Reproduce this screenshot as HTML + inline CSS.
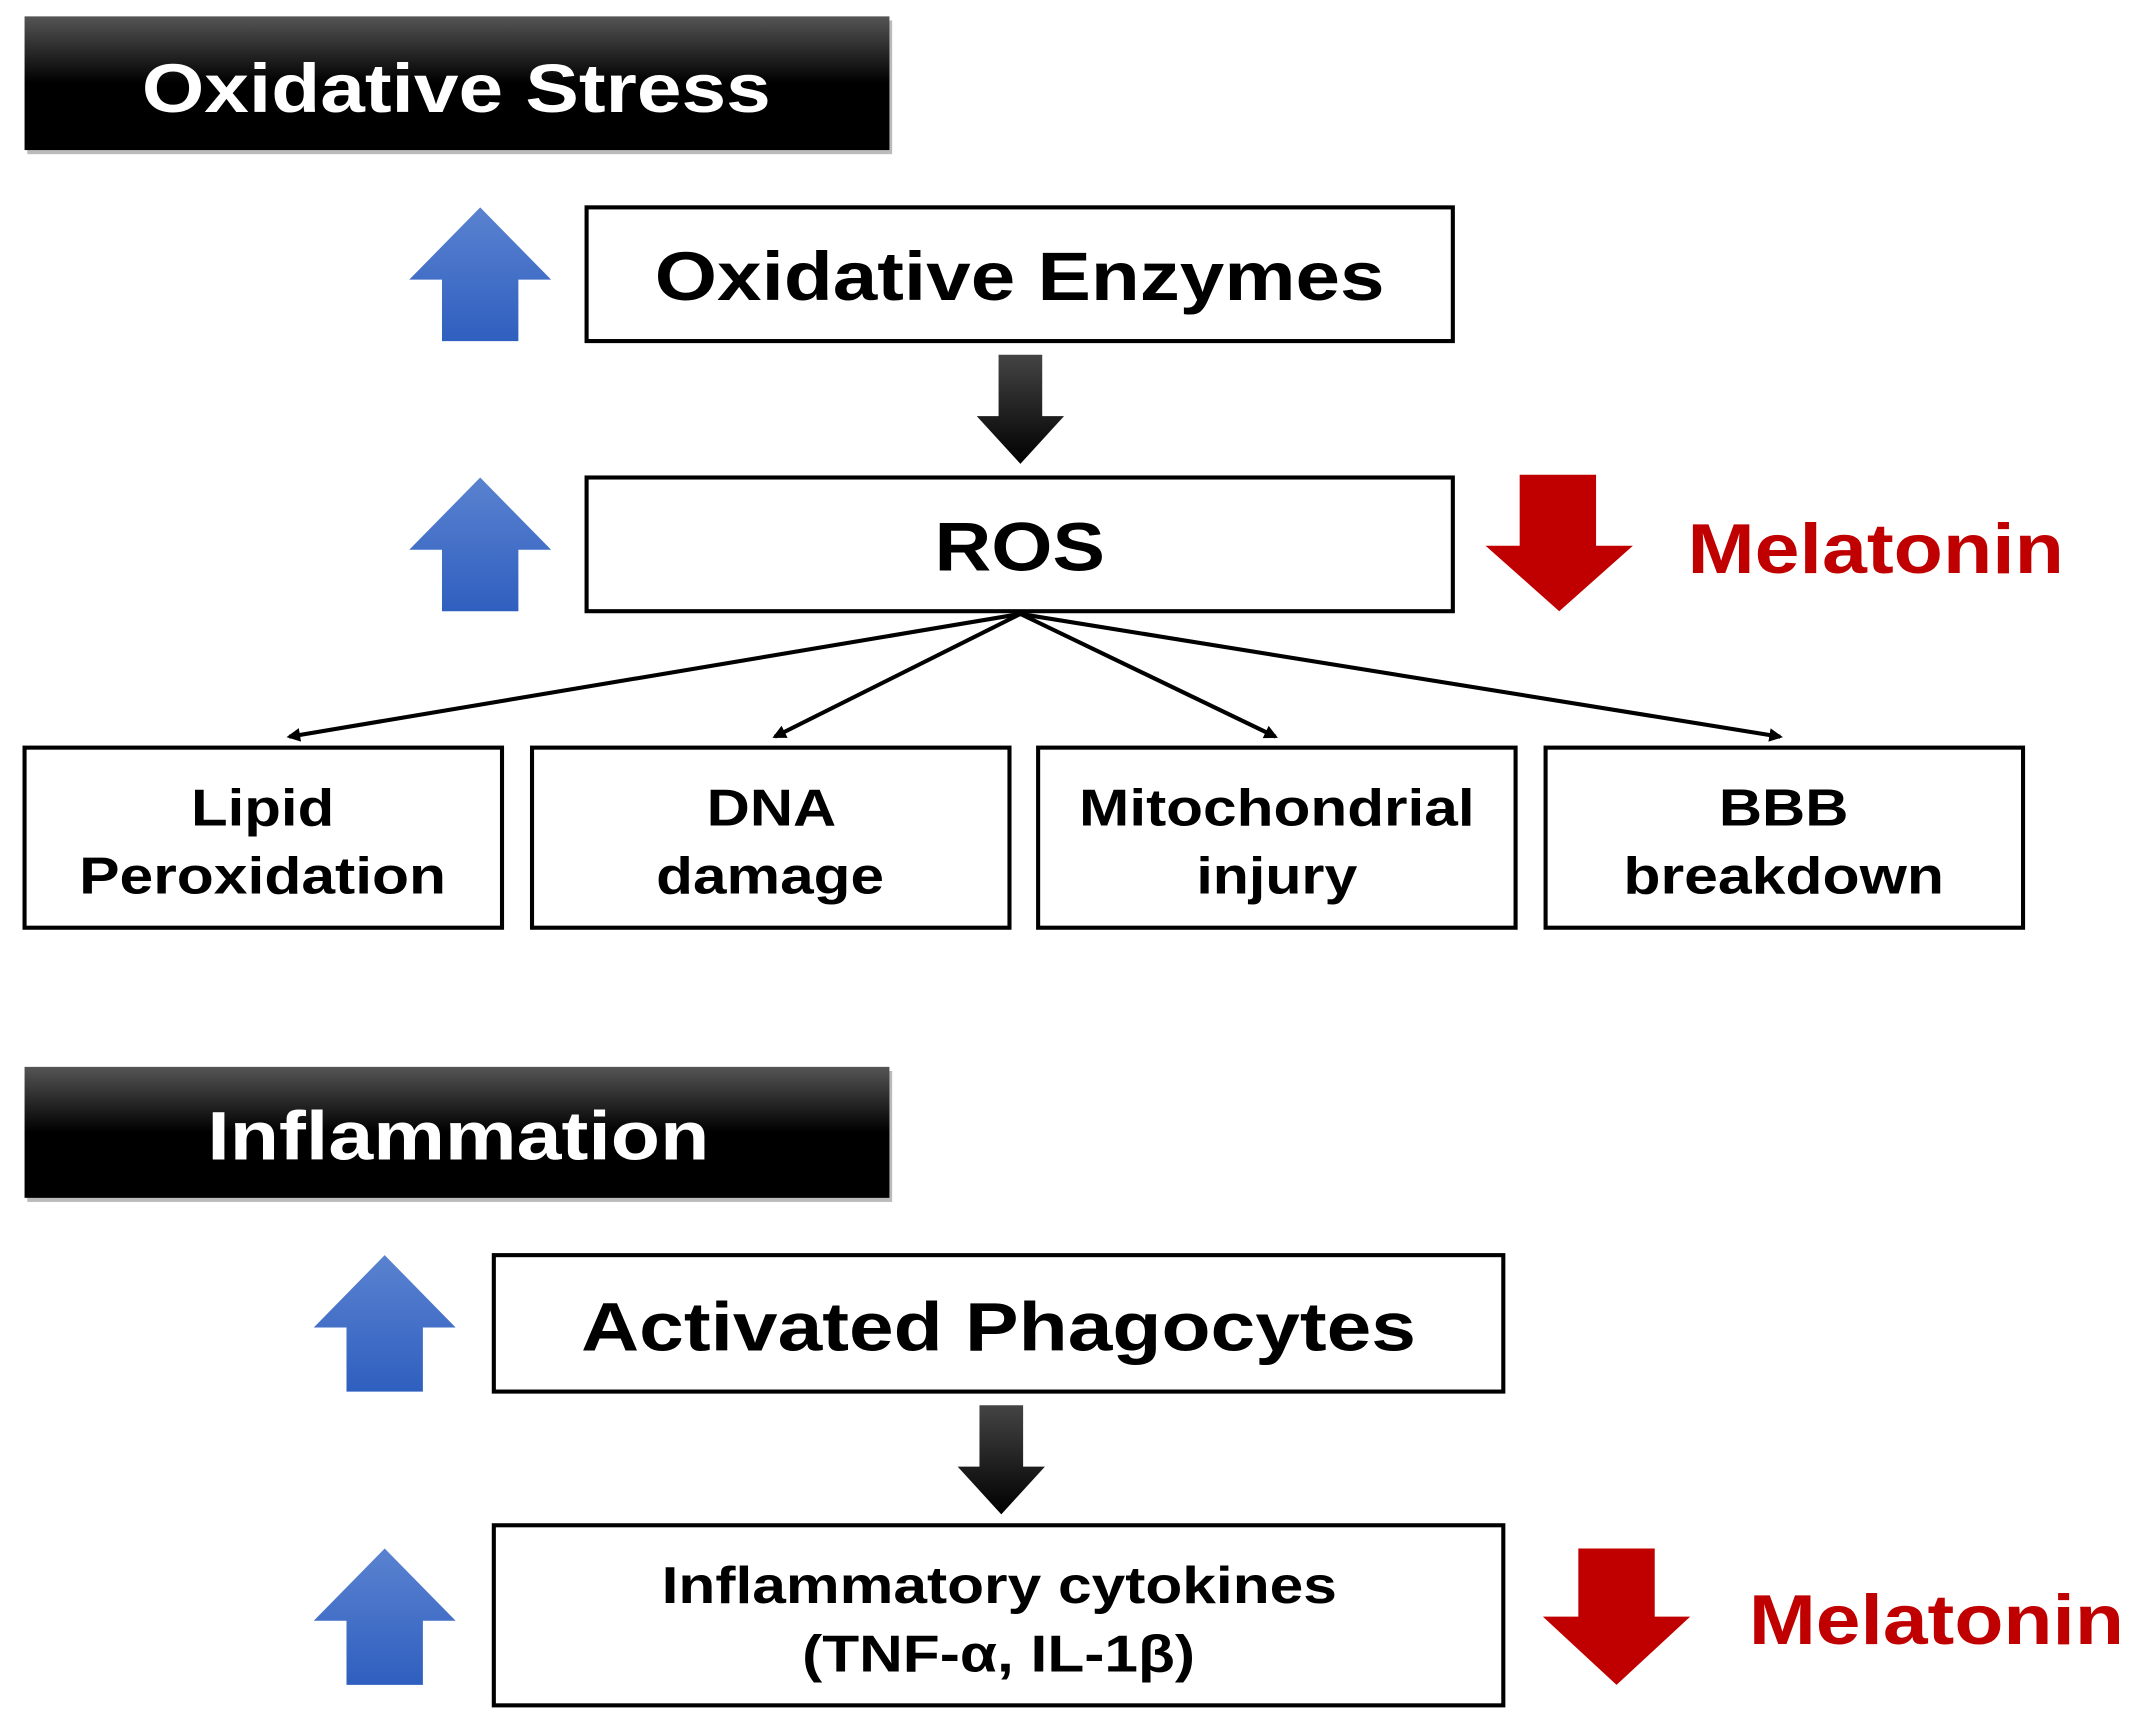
<!DOCTYPE html>
<html><head><meta charset="utf-8"><style>html,body{margin:0;padding:0;background:#fff}svg{display:block}</style></head>
<body>
<svg width="2139" height="1719" viewBox="0 0 1568 1260" preserveAspectRatio="none" xmlns="http://www.w3.org/2000/svg" font-family="Liberation Sans, Arial, sans-serif" font-weight="bold">
<defs>
<linearGradient id="hg" x1="0" y1="0" x2="0" y2="1"><stop offset="0" stop-color="#555"/><stop offset="0.5" stop-color="#000"/><stop offset="1" stop-color="#000"/></linearGradient>
<linearGradient id="bg" x1="0" y1="0" x2="0" y2="1"><stop offset="0" stop-color="#5a82d0"/><stop offset="1" stop-color="#2f5fbf"/></linearGradient>
<linearGradient id="kg" x1="0" y1="0" x2="0" y2="1"><stop offset="0" stop-color="#444"/><stop offset="1" stop-color="#000"/></linearGradient>
<marker id="ah" markerWidth="10" markerHeight="10" refX="8" refY="5" orient="auto" markerUnits="userSpaceOnUse"><path d="M0,0 L10,5 L0,10 Z" fill="#000"/></marker>
</defs>
<rect x="0" y="0" width="1568" height="1260" fill="#fff"/>
<!-- headers -->
<rect x="20" y="15" width="634" height="98" fill="#bbb"/>
<rect x="18" y="12" width="634" height="98" fill="url(#hg)"/>
<text x="104" y="82" font-size="50" fill="#fff" textLength="461" lengthAdjust="spacingAndGlyphs">Oxidative Stress</text>
<rect x="20" y="785" width="634" height="96" fill="#bbb"/>
<rect x="18" y="782" width="634" height="96" fill="url(#hg)"/>
<text x="152" y="850" font-size="50" fill="#fff" textLength="368" lengthAdjust="spacingAndGlyphs">Inflammation</text>
<!-- blue arrows -->
<g fill="url(#bg)">
<path d="M352,152 L404,205 L380,205 L380,250 L324,250 L324,205 L300,205 Z"/>
<path d="M352,350 L404,403 L380,403 L380,448 L324,448 L324,403 L300,403 Z"/>
<path d="M282,920 L334,973 L310,973 L310,1020 L254,1020 L254,973 L230,973 Z"/>
<path d="M282,1135 L334,1188 L310,1188 L310,1235 L254,1235 L254,1188 L230,1188 Z"/>
</g>
<!-- black arrows -->
<path d="M732,260 L764,260 L764,305 L780,305 L748,340 L716,305 L732,305 Z" fill="url(#kg)"/>
<path d="M718,1030 L750,1030 L750,1075 L766,1075 L734,1110 L702,1075 L718,1075 Z" fill="url(#kg)"/>
<!-- red arrows -->
<path d="M1114,348 L1170,348 L1170,400 L1197,400 L1143,448 L1089,400 L1114,400 Z" fill="#c00000"/>
<path d="M1157,1135 L1213,1135 L1213,1185 L1239,1185 L1185,1235 L1131,1185 L1157,1185 Z" fill="#c00000"/>
<text x="1237" y="420" font-size="52" fill="#c00000" textLength="276" lengthAdjust="spacingAndGlyphs">Melatonin</text>
<text x="1282" y="1205" font-size="52" fill="#c00000" textLength="275" lengthAdjust="spacingAndGlyphs">Melatonin</text>
<!-- main boxes -->
<g fill="#fff" stroke="#000" stroke-width="3">
<rect x="430" y="152" width="635" height="98"/>
<rect x="430" y="350" width="635" height="98"/>
<rect x="18" y="548" width="350" height="132"/>
<rect x="390" y="548" width="350" height="132"/>
<rect x="761" y="548" width="350" height="132"/>
<rect x="1133" y="548" width="350" height="132"/>
<rect x="362" y="920" width="740" height="100"/>
<rect x="362" y="1118" width="740" height="132"/>
</g>
<text x="480" y="220" font-size="50" textLength="535" lengthAdjust="spacingAndGlyphs">Oxidative Enzymes</text>
<text x="685" y="418" font-size="50" textLength="125" lengthAdjust="spacingAndGlyphs">ROS</text>
<text x="426" y="990" font-size="50" textLength="612" lengthAdjust="spacingAndGlyphs">Activated Phagocytes</text>
<g font-size="38">
<text x="140" y="605" textLength="105" lengthAdjust="spacingAndGlyphs">Lipid</text>
<text x="58" y="655" textLength="269" lengthAdjust="spacingAndGlyphs">Peroxidation</text>
<text x="518" y="605" textLength="95" lengthAdjust="spacingAndGlyphs">DNA</text>
<text x="481" y="655" textLength="167" lengthAdjust="spacingAndGlyphs">damage</text>
<text x="791" y="605" textLength="290" lengthAdjust="spacingAndGlyphs">Mitochondrial</text>
<text x="877" y="655" textLength="118" lengthAdjust="spacingAndGlyphs">injury</text>
<text x="1260" y="605" textLength="95" lengthAdjust="spacingAndGlyphs">BBB</text>
<text x="1190" y="655" textLength="235" lengthAdjust="spacingAndGlyphs">breakdown</text>
<text x="485" y="1175" textLength="495" lengthAdjust="spacingAndGlyphs">Inflammatory cytokines</text>
<text x="588" y="1225" textLength="288" lengthAdjust="spacingAndGlyphs">(TNF-α, IL-1β)</text>
</g>
<!-- connectors -->
<g stroke="#000" stroke-width="3" fill="none" marker-end="url(#ah)">
<line x1="748" y1="450" x2="212" y2="540"/>
<line x1="748" y1="450" x2="568" y2="540"/>
<line x1="748" y1="450" x2="935" y2="540"/>
<line x1="748" y1="450" x2="1305" y2="540"/>
</g>
</svg>
</body></html>
